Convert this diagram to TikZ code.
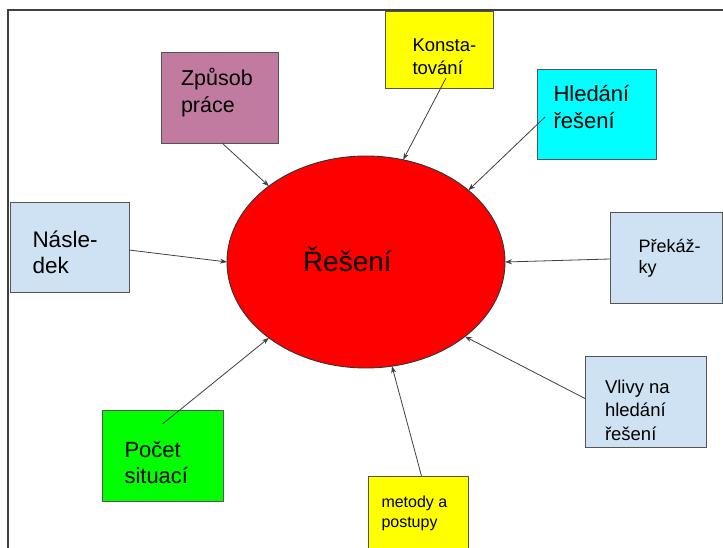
\documentclass[tikz,border=0pt]{standalone}
\usepackage{fontspec}
\setmainfont{Liberation Sans}
\usetikzlibrary{shapes.geometric,arrows.meta,calc}
\definecolor{mauve}{HTML}{C27BA0}
\definecolor{pale}{HTML}{CFE2F3}
\definecolor{edgegray}{HTML}{555555}
\definecolor{pureyellow}{HTML}{FFFF00}
\definecolor{purecyan}{HTML}{00FFFF}
\definecolor{puregreen}{HTML}{00FF00}
\definecolor{purered}{HTML}{FF0000}
\begin{document}
\begin{tikzpicture}[x=1pt,y=-1pt,
  box/.style={draw=edgegray,line width=0.9pt,rectangle,inner sep=0pt,outer sep=0pt},
  lbl/.style={anchor=base west,inner sep=0pt,outer sep=0pt,align=left,text=black},
  arr/.style={draw=black!75,line width=0.8pt,-{Stealth[length=7pt,width=5pt]}}]
\useasboundingbox (0,0) rectangle (723,548);
\clip (0,0) rectangle (723,548);
\fill[white] (0,0) rectangle (723,548);
\draw[line width=1.8pt, black!75] (730,10) -- (8,10) -- (8,560);

% central ellipse
\node[ellipse,draw=black!80,line width=0.9pt,fill=purered,minimum width=278pt,minimum height=212pt,inner sep=0pt,outer sep=0pt] (res) at (366,262) {};
\node[lbl,font=\fontsize{28}{33}\selectfont] (tres) at (303,271) {Řešení};

% boxes
\node[box,fill=mauve,minimum width=117pt,minimum height=91pt] (zp) at (219.5,97.5) {};
\node[box,fill=pureyellow,minimum width=108pt,minimum height=77pt] (ko) at (439,49.5) {};
\node[box,fill=purecyan,minimum width=119pt,minimum height=90pt] (hl) at (596.5,114) {};
\node[box,fill=pale,minimum width=119pt,minimum height=90pt] (na) at (69.5,247) {};
\node[box,fill=pale,minimum width=112pt,minimum height=91pt] (pr) at (666,257.5) {};
\node[box,fill=pale,minimum width=121pt,minimum height=91pt] (vl) at (645.5,401.5) {};
\node[box,fill=puregreen,minimum width=121pt,minimum height=91pt] (po) at (162.5,455.5) {};
\node[box,fill=pureyellow,minimum width=100pt,minimum height=84pt] (me) at (418,518) {};

% labels (anchored at the baseline of the last line)
\node[lbl,font=\fontsize{21.5}{27}\selectfont] (tzp) at (181,113) {Způsob\\práce};
\node[lbl,font=\fontsize{18.5}{22.5}\selectfont] (tko) at (412.5,74.5) {Konsta-\\tování};
\node[lbl,font=\fontsize{22}{26.5}\selectfont] (thl) at (553.5,128.5) {Hledání\\řešení};
\node[lbl,font=\fontsize{22.5}{26}\selectfont] (tna) at (32.5,273) {Násle-\\dek};
\node[lbl,font=\fontsize{18}{21}\selectfont] (tpr) at (638.5,273) {Překáž-\\ky};
\node[lbl,font=\fontsize{18.5}{23.3}\selectfont] (tvl) at (605,440) {Vlivy na\\hledání\\řešení};
\node[lbl,font=\fontsize{22}{26}\selectfont] (tpo) at (124.5,483) {Počet\\situací};
\node[lbl,font=\fontsize{16}{19.5}\selectfont] (tme) at (381.5,527) {metody a\\postupy};

% connectors
\draw[arr] ($(zp.south)+(2.5,0)$) -- (res.142.6);
\draw[arr] ($(ko.south)+(7,-10)$) -- (res.70);
\draw[arr] ($(hl.west)+(8,3)$) -- (res.35);
\draw[arr] ($(na.east)+(0,3)$) -- (res.180);
\draw[arr] ($(pr.west)+(0,1.5)$) -- (res.0);
\draw[arr] ($(vl.west)+(0,-3)$) -- (res.-37);
\draw[arr] ($(po.north)+(0,14)$) -- (res.-142);
\draw[arr] ($(me.north)+(3.5,0)$) -- (res.-76.4);
\end{tikzpicture}
\end{document}
